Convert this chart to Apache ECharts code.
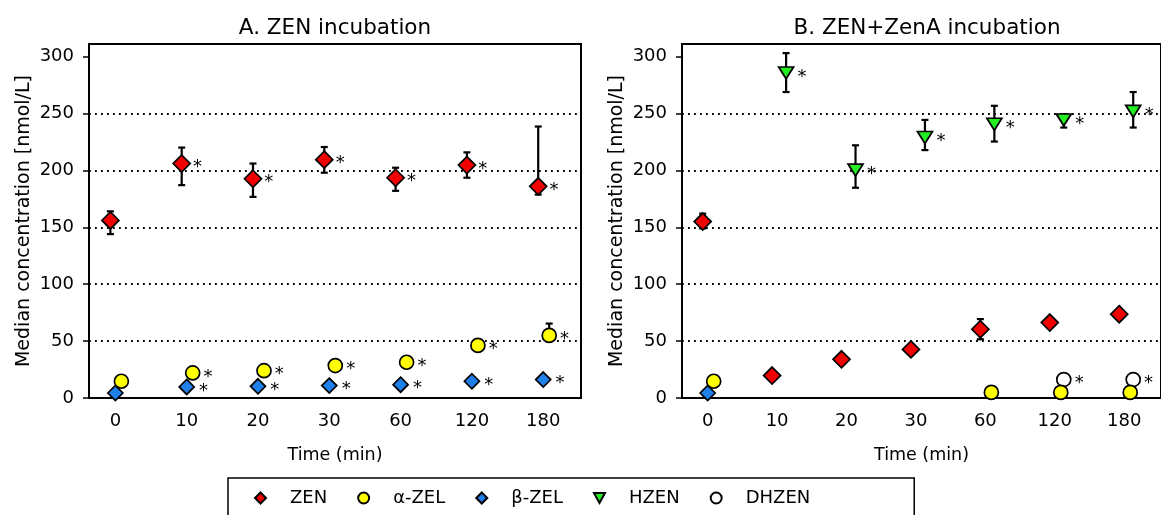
<!DOCTYPE html>
<html>
<head>
<meta charset="utf-8">
<script src="https://cdn.jsdelivr.net/npm/echarts@6/dist/echarts.min.js"></script>
<style>html,body{margin:0;padding:0;background:#fff}#c{width:1161px;height:515px}</style>
</head>
<body>
<div id="c"></div>
<script>
// ---------- data ----------
const timeLabels = ['0', '10', '20', '30', '60', '120', '180'];
const yTicks = [0, 50, 100, 150, 200, 250, 300];

// Panel A: ZEN incubation
const zenA      = [156, 206, 192.6, 209.4, 193.5, 204.6, 186];
const zenA_lo   = [144, 187, 176.7, 197.9, 182, 193.5, 178.7];
const zenA_hi   = [164, 220, 206, 220.5, 202.3, 215.8, 238.5];
const zenA_star = [0, 1, 1, 1, 1, 1, 1];
const azelA      = [14.7, 22, 24, 28.5, 31.4, 46.2, 55];
const azelA_lo   = [null, null, null, null, null, null, 50];
const azelA_hi   = [null, null, null, null, null, null, 65.4];
const azelA_star = [0, 1, 1, 1, 1, 1, 1];
const bzelA      = [4.4, 9.7, 10.3, 10.9, 11.7, 14.7, 16.2];
const bzelA_star = [0, 1, 1, 1, 1, 1, 1];

// Panel B: ZEN+ZenA incubation
const zenB      = [155, 19.7, 34, 42.7, 60.4, 66.3, 73.6];
const zenB_lo   = [149, null, null, null, 51.6, null, null];
const zenB_hi   = [162, null, null, null, 69.3, null, null];
const zenB_star = [0, 0, 0, 0, 0, 0, 0];
const azelB      = [14.7, null, null, null, 4.9, 4.9, 4.9];
const azelB_star = [0, 0, 0, 0, 0, 0, 0];
const bzelB      = [4.4, null, null, null, null, null, null];
const bzelB_star = [0, 0, 0, 0, 0, 0, 0];
const hzenB      = [null, 285.6, 200.2, 228.8, 240.5, 244.3, 251.8];
const hzenB_lo   = [null, 268.8, 184.7, 217.8, 225.3, 237.6, 237.6];
const hzenB_hi   = [null, 303, 222, 244.3, 256.7, 249.4, 268.8];
const hzenB_star = [0, 1, 1, 1, 1, 1, 1];
const dhzenB      = [null, null, null, null, null, 16.2, 16.2];
const dhzenB_star = [0, 0, 0, 0, 0, 1, 1];

// ---------- styles ----------
const FONT = 'DejaVu Sans';
const COL = { ZEN: '#f00000', aZEL: '#ffff00', bZEL: '#1f80ea', HZEN: '#22ee22', DHZEN: '#ffffff' };
const DOWN_TRI = 'path://M0,0L10,0L5,9Z';

function pts(vals, stars) {
  const out = [];
  vals.forEach((v, i) => {
    if (v === null) return;
    out.push({ value: [i, v], label: { show: !!stars[i] } });
  });
  return out;
}
function errs(lo, hi) {
  const out = [];
  lo.forEach((l, i) => { if (l !== null) out.push([i, l, hi[i]]); });
  return out;
}
function scatter(name, gi, vals, stars, symbol, size, color, dx, dist) {
  return {
    name, type: 'scatter', xAxisIndex: gi, yAxisIndex: gi,
    symbol, symbolSize: size, symbolOffset: [dx, 0],
    itemStyle: { color, borderColor: '#000', borderWidth: 1.7, opacity: 1 },
    label: { show: false, formatter: '*', position: 'right', distance: dist, offset: [0, 4],
             fontFamily: FONT, fontSize: 18, color: '#000' },
    emphasis: { disabled: true },
    data: pts(vals, stars), z: 5
  };
}
function errSeries(gi, lo, hi, dx) {
  return {
    type: 'custom', xAxisIndex: gi, yAxisIndex: gi, z: 3, silent: true,
    renderItem: function (params, api) {
      const x = api.value(0);
      const p1 = api.coord([x, api.value(1)]);
      const p2 = api.coord([x, api.value(2)]);
      const cx = p1[0] + dx, w = 3.5;
      const st = { stroke: '#000', lineWidth: 2.2 };
      return { type: 'group', children: [
        { type: 'line', shape: { x1: cx, y1: p1[1], x2: cx, y2: p2[1] }, style: st },
        { type: 'line', shape: { x1: cx - w, y1: p1[1], x2: cx + w, y2: p1[1] }, style: st },
        { type: 'line', shape: { x1: cx - w, y1: p2[1], x2: cx + w, y2: p2[1] }, style: st }
      ]};
    },
    data: errs(lo, hi)
  };
}

const xIdx = timeLabels.map((_, i) => i);
function xAxisDef(gi) {
  return {
    type: 'value', gridIndex: gi, min: -0.37, max: 6.53,
    name: 'Time (min)', nameLocation: 'middle', nameGap: 48,
    nameTextStyle: { fontFamily: FONT, fontSize: 17.5, color: '#000' },
    axisLine: { show: true, onZero: false, lineStyle: { color: '#000', width: 2 } },
    axisTick: { show: false },
    splitLine: { show: false },
    axisLabel: { customValues: xIdx, formatter: v => timeLabels[Math.round(v)],
                 fontFamily: FONT, fontSize: 18, color: '#000', margin: 14 }
  };
}
function yAxisDef(gi) {
  return {
    type: 'value', gridIndex: gi, min: 0, max: 311, interval: 50,
    name: 'Median concentration [nmol/L]', nameLocation: 'middle', nameGap: 55,
    nameMoveOverlap: false,
    nameTextStyle: { fontFamily: FONT, fontSize: 19, color: '#000' },
    axisLine: { show: true, onZero: false, lineStyle: { color: '#000', width: 2 } },
    axisTick: { show: true, length: 6, customValues: yTicks, lineStyle: { color: '#000', width: 1.5 } },
    axisLabel: { customValues: yTicks, fontFamily: FONT, fontSize: 18, color: '#000', margin: 15 },
    splitLine: { show: true, showMinLine: false, showMaxLine: false,
                 lineStyle: { color: '#000', width: 1.8, type: [1.8, 4.2] } }
  };
}

const option = {
  animation: false,
  backgroundColor: '#fff',
  grid: [
    { left: 89, top: 44, width: 492, height: 354, show: true, borderColor: '#000', borderWidth: 2, backgroundColor: 'transparent' },
    { left: 682, top: 44, width: 492, height: 354, show: true, borderColor: '#000', borderWidth: 2, backgroundColor: 'transparent' }
  ],
  xAxis: [xAxisDef(0), xAxisDef(1)],
  yAxis: [yAxisDef(0), yAxisDef(1)],
  graphic: [
    { type: 'text', x: 335, y: 28, style: { text: 'A. ZEN incubation', fontFamily: FONT, fontSize: 21.5, fill: '#000', textAlign: 'center', textVerticalAlign: 'middle' } },
    { type: 'text', x: 927, y: 28, style: { text: 'B. ZEN+ZenA incubation', fontFamily: FONT, fontSize: 21.5, fill: '#000', textAlign: 'center', textVerticalAlign: 'middle' } }
  ],
  legend: {
    left: 228, top: 478,
    data: [{ name: 'ZEN' }, { name: 'α-ZEL' }, { name: 'β-ZEL' }, { name: 'HZEN', icon: DOWN_TRI }, { name: 'DHZEN' }],
    itemWidth: 11, itemHeight: 11, itemGap: 30,
    padding: [11, 104, 30, 26],
    borderColor: '#000', borderWidth: 1.5,
    textStyle: { fontFamily: FONT, fontSize: 18, color: '#000', padding: [0, 0, 0, 19] },
    selectedMode: false
  },
  series: [
    // Panel A
    errSeries(0, zenA_lo, zenA_hi, -5),
    errSeries(0, azelA_lo, azelA_hi, 6),
    scatter('ZEN', 0, zenA, zenA_star, 'diamond', 17, COL.ZEN, -5, 2),
    scatter('β-ZEL', 0, bzelA, bzelA_star, 'diamond', 15, COL.bZEL, 0, 4),
    scatter('α-ZEL', 0, azelA, azelA_star, 'circle', 14, COL.aZEL, 6, 3),
    // Panel B
    errSeries(1, zenB_lo, zenB_hi, -5),
    errSeries(1, hzenB_lo, hzenB_hi, 9),
    scatter('ZEN', 1, zenB, zenB_star, 'diamond', 17, COL.ZEN, -5, 2),
    scatter('β-ZEL', 1, bzelB, bzelB_star, 'diamond', 15, COL.bZEL, 0, 4),
    scatter('HZEN', 1, hzenB, hzenB_star, DOWN_TRI, [15, 12], COL.HZEN, 9, 3),
    scatter('DHZEN', 1, dhzenB, dhzenB_star, 'circle', 14, COL.DHZEN, 9, 3),
    scatter('α-ZEL', 1, azelB, azelB_star, 'circle', 14, COL.aZEL, 6, 3)
  ]
};
const chart = echarts.init(document.getElementById('c'), null, { renderer: 'canvas' });
chart.setOption(option);
</script>
</body>
</html>
